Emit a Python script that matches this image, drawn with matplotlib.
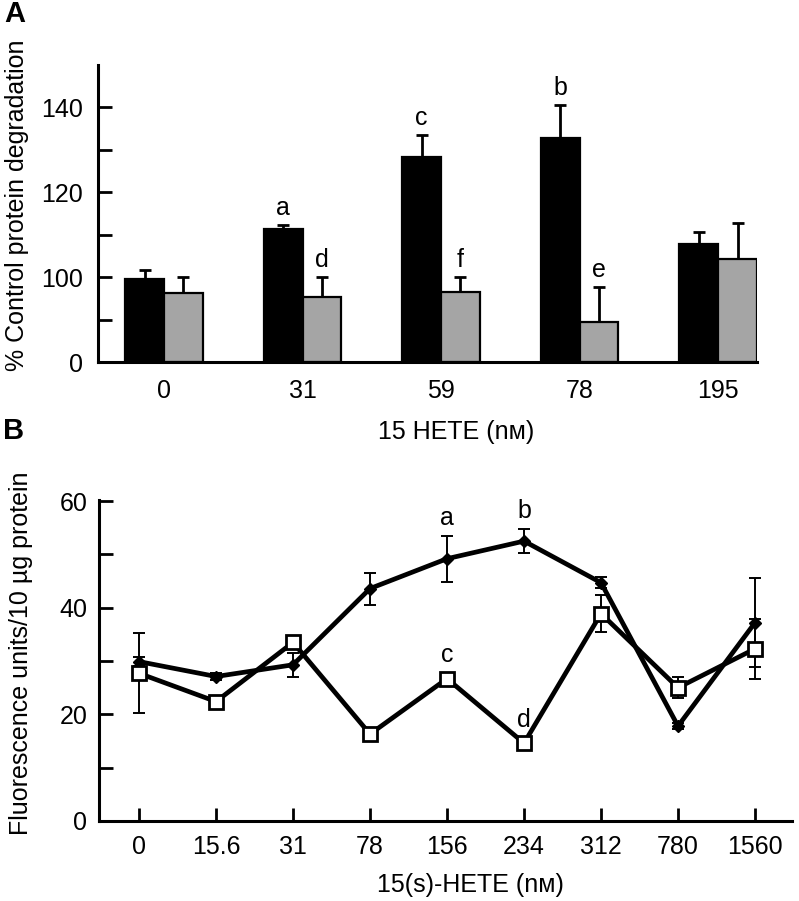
import numpy as np
import matplotlib
matplotlib.use("Agg")
import matplotlib.pyplot as plt

plt.rcParams['font.family'] = ['Liberation Sans', 'DejaVu Sans']
FS = 18

# --- Панель A: деградація білка ---
conc_a = ['0', '31', '59', '78', '195']
black_a = [99.7, 111.5, 128.4, 132.7, 107.8]
black_a_err = [2.1, 0.9, 5.2, 7.8, 3.0]
gray_a = [96.3, 95.4, 96.5, 89.5, 104.3]
gray_a_err = [3.8, 4.7, 3.6, 8.2, 8.6]
letters_black_a = ['', 'a', 'c', 'b', '']
letters_gray_a = ['', 'd', 'f', 'e', '']
# вісь розірвана: "0" стоїть на місці 80
floor_a = 80
yticks_a = [80, 100, 120, 140]
yticklabels_a = ['0', '100', '120', '140']

# --- Панель B: флуоресценція ---
conc_b = ['0', '15.6', '31', '78', '156', '234', '312', '780', '1560']
filled_b = [29.9, 27.1, 29.3, 43.6, 49.2, 52.5, 44.7, 17.8, 37.2]
filled_b_err = [0.8, 0.6, 2.3, 3.0, 4.3, 2.3, 1.0, 0.6, 8.3]
open_b = [27.7, 22.4, 33.5, 16.3, 26.7, 14.6, 38.9, 25.0, 32.3]
open_b_err = [7.5, 0.6, 1.0, 0.6, 0.6, 0.6, 3.4, 2.0, 5.6]
letters_filled_b = ['', '', '', '', 'a', 'b', '', '', '']
letters_open_b = ['', '', '', '', 'c', 'd', '', '', '']

fig = plt.figure(figsize=(7.99, 9.01), dpi=100)

# ---------------- A ----------------
axA = fig.add_axes([0.1227, 0.5978, 0.8247, 0.3301])
x = np.arange(len(conc_a))
w = 0.28
blk = np.array(black_a)
gry = np.array(gray_a)
axA.bar(x - w / 2, blk - floor_a, w, bottom=floor_a, color='black',
        edgecolor='black', linewidth=1.6, zorder=2)
axA.bar(x + w / 2, gry - floor_a, w, bottom=floor_a, color='#a5a5a5',
        edgecolor='black', linewidth=1.6, zorder=2)
axA.errorbar(x - w / 2, blk, yerr=[np.zeros(len(x)), black_a_err], fmt='none',
             ecolor='black', elinewidth=2, capsize=4.5, capthick=2, zorder=1)
axA.errorbar(x + w / 2, gry, yerr=[np.zeros(len(x)), gray_a_err], fmt='none',
             ecolor='black', elinewidth=2, capsize=4.5, capthick=2, zorder=1)
for i in range(len(x)):
    if letters_black_a[i]:
        axA.text(x[i] - w / 2, black_a[i] + black_a_err[i] + 4, letters_black_a[i],
                 ha='center', va='center', fontsize=FS)
    if letters_gray_a[i]:
        axA.text(x[i] + w / 2, gray_a[i] + gray_a_err[i] + 4, letters_gray_a[i],
                 ha='center', va='center', fontsize=FS)

axA.set_xlim(-0.476, 4.28)
axA.set_ylim(floor_a, 150)
axA.set_xticks(x)
axA.set_xticklabels(conc_a, fontsize=FS)
axA.set_yticks(yticks_a)
axA.set_yticklabels(yticklabels_a, fontsize=FS)
axA.set_yticks([90, 110, 130], minor=True)
axA.tick_params(axis='y', which='both', direction='in', length=10, width=2, pad=11)
axA.tick_params(axis='x', length=0, pad=12)
for s in ['top', 'right']:
    axA.spines[s].set_visible(False)
for s in ['left', 'bottom']:
    axA.spines[s].set_linewidth(2.2)

fig.text(456 / 799, 1 - 432 / 901, '15 HETE (nᴍ)', ha='center', va='center', fontsize=FS)
fig.text(17 / 799, 1 - 205 / 901, '% Control protein degradation', rotation=90,
         ha='center', va='center', fontsize=FS)
fig.text(15 / 799, 1 - 14 / 901, 'A', ha='center', va='center', fontsize=21, fontweight='bold')

# ---------------- B ----------------
axB = fig.add_axes([0.1239, 0.0888, 0.8673, 0.3562])
xb = np.arange(len(conc_b))
axB.errorbar(xb, open_b, yerr=open_b_err, fmt='none', ecolor='black',
             elinewidth=1.4, capsize=4.5, capthick=1.4, zorder=1)
axB.errorbar(xb, filled_b, yerr=filled_b_err, fmt='none', ecolor='black',
             elinewidth=1.4, capsize=4.5, capthick=1.4, zorder=1)
axB.plot(xb, filled_b, color='black', linewidth=3.4, marker='D', markersize=6.5,
         markerfacecolor='black', markeredgecolor='black', zorder=3)
axB.plot(xb, open_b, color='black', linewidth=3.4, marker='s', markersize=10.5,
         markerfacecolor='white', markeredgecolor='black', markeredgewidth=2, zorder=4)
for i in range(len(xb)):
    if letters_filled_b[i]:
        axB.annotate(letters_filled_b[i], (xb[i], filled_b[i] + filled_b_err[i]),
                     xytext=(0, 13), textcoords='offset points',
                     ha='center', va='center', fontsize=FS)
    if letters_open_b[i]:
        axB.annotate(letters_open_b[i], (xb[i], open_b[i]),
                     xytext=(0, 17), textcoords='offset points',
                     ha='center', va='center', fontsize=FS)

axB.set_xlim(-0.52, 8.48)
axB.set_ylim(0, 60.2)
axB.set_xticks(xb)
axB.set_xticklabels(conc_b, fontsize=FS)
axB.set_yticks([0, 20, 40, 60])
axB.set_yticklabels(['0', '20', '40', '60'], fontsize=FS)
axB.set_yticks([10, 30, 50], minor=True)
axB.tick_params(axis='y', which='both', direction='in', length=10, width=2, pad=8.5)
axB.tick_params(axis='x', direction='in', length=9.5, width=2, pad=10)
for s in ['top', 'right']:
    axB.spines[s].set_visible(False)
for s in ['left', 'bottom']:
    axB.spines[s].set_linewidth(2.2)

fig.text(470 / 799, 1 - 885 / 901, '15(s)-HETE (nᴍ)', ha='center', va='center', fontsize=FS)
fig.text(21 / 799, 1 - 653 / 901, 'Fluorescence units/10 µg protein', rotation=90,
         ha='center', va='center', fontsize=FS)
fig.text(14 / 799, 1 - 431 / 901, 'B', ha='center', va='center', fontsize=21, fontweight='bold')

fig.savefig('out.png', dpi=100)
